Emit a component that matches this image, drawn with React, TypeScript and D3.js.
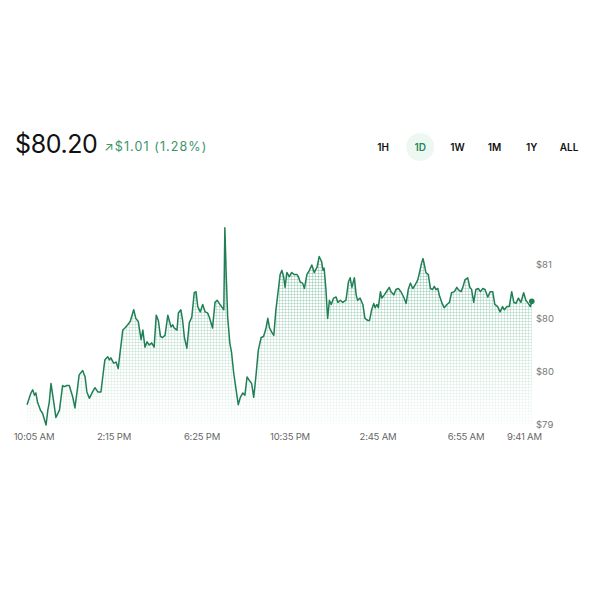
import React from "react";
import * as d3 from "d3";

// minutes after 10:05 AM
const minutes = [3,9,14,19,24,28,33,41,47,57,62,66,71,79,85,95,104,109,116,123,133,139,145,151,161,168,173,180,189,196,204,213,218,224,232,237,241,249,256,262,268,275,281,289,296,306,312,319,327,332,338,344,350,357,364,370,376,382,388,395,403,407,412,417,421,429,433,440,445,450,457,464,471,478,483,488,495,502,509,516,521,530,537,543,549,562,565,569,573,579,584,590,597,603,609,616,622,628,634,641,647,653,660,668,675,682,687,692,698,704,710,717,722,727,732,736,741,748,755,762,770,774,779,786,791,798,805,812,819,827,833,840,844,847,852,857,862,867,874,881,886,893,900,909,916,921,926,933,938,942,949,957,963,971,976,982,988,992,997,1001,1007,1011,1018,1028,1032,1037,1045,1051,1058,1065,1073,1080,1086,1092,1099,1105,1113,1118,1124,1128,1132,1136,1143,1149,1155,1160,1165,1170,1174,1181,1188,1196,1203,1209,1217,1224,1228,1236,1241,1247,1255,1261,1266,1272,1278,1285,1291,1298,1304,1312,1319,1326,1332,1340,1347,1354,1359,1366,1373,1380,1386,1392,1399,1406,1414,1420,1427,1433,1437];
const prices = [79.44,79.50,79.55,79.58,79.53,79.55,79.46,79.39,79.36,79.25,79.39,79.46,79.64,79.46,79.32,79.39,79.62,79.61,79.62,79.62,79.51,79.41,79.56,79.72,79.76,79.70,79.56,79.50,79.56,79.60,79.56,79.56,79.70,79.86,79.89,79.86,79.88,79.83,79.84,79.78,79.95,80.14,80.16,80.19,80.22,80.33,80.25,80.22,80.05,80.14,79.98,80.03,80.00,80.02,79.98,80.28,80.23,80.08,80.07,80.09,80.28,80.23,80.17,80.19,80.16,80.14,80.30,80.33,80.23,80.07,79.97,80.21,80.26,80.49,80.50,80.36,80.31,80.38,80.31,80.30,80.26,80.16,80.40,80.42,80.39,80.33,81.10,80.64,80.26,80.02,79.93,79.74,79.58,79.44,79.51,79.55,79.53,79.70,79.67,79.64,79.51,79.70,79.95,80.07,80.08,80.16,80.25,80.16,80.12,80.09,80.33,80.52,80.66,80.70,80.64,80.54,80.68,80.64,80.68,80.66,80.66,80.64,80.59,80.58,80.53,80.66,80.70,80.75,80.68,80.73,80.83,80.78,80.70,80.72,80.53,80.25,80.42,80.38,80.44,80.45,80.40,80.42,80.40,80.42,80.59,80.63,80.54,80.63,80.47,80.42,80.44,80.38,80.25,80.23,80.23,80.33,80.39,80.35,80.38,80.35,80.50,80.44,80.47,80.52,80.54,80.50,80.47,80.52,80.53,80.50,80.45,80.39,80.52,80.58,80.53,80.56,80.61,80.68,80.77,80.81,80.75,80.68,80.66,80.53,80.52,80.55,80.52,80.53,80.47,80.40,80.35,80.38,80.40,80.49,80.50,80.54,80.52,80.50,80.54,80.61,80.63,80.54,80.52,80.40,80.52,80.53,80.50,80.53,80.52,80.45,80.50,80.50,80.38,80.36,80.31,80.36,80.33,80.36,80.36,80.50,80.40,80.39,80.44,80.40,80.49,80.42,80.39,80.36,80.41];

const xTickMinutes = [0, 250, 500, 750, 1000, 1250, 1416];
const xTickLabels = ["10:05 AM", "2:15 PM", "6:25 PM", "10:35 PM", "2:45 AM", "6:55 AM", "9:41 AM"];
const yTickValues = [80.75, 80.25, 79.75, 79.25];
const ranges = ["1H", "1D", "1W", "1M", "1Y", "ALL"];
const activeRange = "1D";
const priceLabel = "$80.20";
const changeLabel = "↗$1.01 (1.28%)";

const GREEN = "#217f56";
const FONT = "Inter, 'Noto Sans', sans-serif";

export default function App() {
  const data = minutes.map((m, i) => ({ m, p: prices[i] }));
  const x = d3.scaleLinear().domain([0, 1416]).range([26, 524.4]);
  const y = d3.scaleLinear().domain([79.25, 80.75]).range([425, 265]);
  const bottom = 425;
  const line = d3.line<{ m: number; p: number }>().x(d => x(d.m)).y(d => y(d.p));
  const area = d3.area<{ m: number; p: number }>().x(d => x(d.m)).y0(bottom).y1(d => y(d.p));
  const last = data[data.length - 1];
  const rangeX = d3.scalePoint<string>().domain(ranges).range([383, 569]);

  return (
    <svg width={600} height={600} style={{ position: "absolute", left: 0, top: 0, background: "#fff" }}>
      <defs>
        <pattern id="grid" width={3} height={3} patternUnits="userSpaceOnUse">
          <path d="M0 0.5H3M0.5 0V3" stroke="#3a9d70" strokeWidth={1} strokeOpacity={0.38} fill="none" />
        </pattern>
        <linearGradient id="fade" x1={0} y1={228} x2={0} y2={bottom} gradientUnits="userSpaceOnUse">
          <stop offset="0" stopColor="#fff" stopOpacity={1} />
          <stop offset="1" stopColor="#fff" stopOpacity={0.06} />
        </linearGradient>
        <mask id="fadeMask" maskUnits="userSpaceOnUse" x={0} y={0} width={600} height={600}>
          <rect x={0} y={0} width={600} height={600} fill="url(#fade)" />
        </mask>
      </defs>

      <text x={15} y={153} fontFamily={FONT} fontSize={25} fill="#111" letterSpacing={-0.4}>{priceLabel}</text>
      <text x={104} y={151} fontFamily={FONT} fontSize={12.5} fill="#3a9468" letterSpacing={1.1}>{changeLabel}</text>

      {ranges.map(r => (
        <g key={r}>
          {r === activeRange && <circle cx={rangeX(r)} cy={147} r={14} fill="#edf8f2" />}
          <text x={rangeX(r)} y={147} dy="0.35em" textAnchor="middle" fontFamily={FONT} fontSize={10} fontWeight={600}
            fill={r === activeRange ? "#1f8a5a" : "#111"}>{r}</text>
        </g>
      ))}

      <path d={area(data) || ""} fill="url(#grid)" mask="url(#fadeMask)" />
      <path d={line(data) || ""} fill="none" stroke={GREEN} strokeWidth={1.5} strokeLinejoin="round" />
      <circle cx={x(last.m)} cy={y(last.p)} r={2.8} fill={GREEN} />

      {yTickValues.map(v => (
        <text key={v} x={536} y={y(v)} dy="0.35em" fontFamily={FONT} fontSize={9.5} fill="#777">{"$" + Math.round(v)}</text>
      ))}
      {xTickMinutes.map((m, i) => (
        <text key={m} x={Math.max(x(m), 34)} y={437} dy="0.35em" textAnchor="middle" fontFamily={FONT} fontSize={9.5}
          fill="#666" letterSpacing={-0.2}>{xTickLabels[i]}</text>
      ))}
    </svg>
  );
}
